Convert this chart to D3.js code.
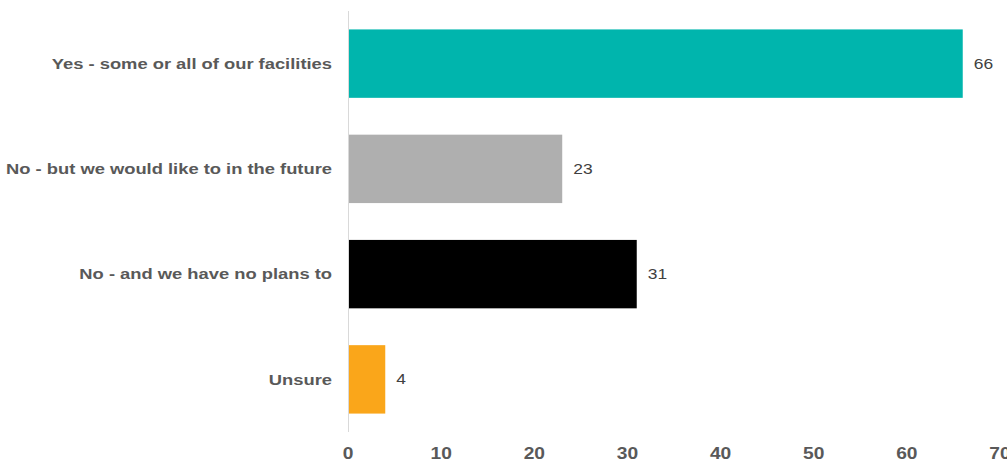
<!DOCTYPE html>
<html>
<head>
<meta charset="utf-8">
<script src="https://cdn.jsdelivr.net/npm/d3@7"></script>
<style>
  body { margin: 0; background: #fff; }
  svg { display: block; font-family: "Liberation Sans", Arial, sans-serif; }
</style>
</head>
<body>
<div id="chart"></div>
<script>
// chart data
var categories = ["Yes - some or all of our facilities", "No - but we would like to in the future", "No - and we have no plans to", "Unsure"];
var values = [66, 23, 31, 4];
var colors = ["#00B5AD", "#AFAFAF", "#000000", "#FAA61A"];
var ticks = [0, 10, 20, 30, 40, 50, 60, 70];

var width = 1007, height = 462;
var stretch = 1.2; // text in the original looks horizontally stretched

var svg = d3.select("#chart").append("svg")
    .attr("width", width)
    .attr("height", height);

var x = d3.scaleLinear().domain([0, 70]).range([348, 1000]);
var y = d3.scaleBand().domain(categories).range([11, 432]).paddingInner(0.35).paddingOuter(0.175);

function place(px, py) {
  return "translate(" + px + "," + py + ") scale(" + stretch + ",1)";
}

// vertical axis line
svg.append("line")
    .attr("x1", x(0) + 0.5).attr("x2", x(0) + 0.5)
    .attr("y1", 11).attr("y2", 432)
    .attr("stroke", "#D9D9D9").attr("stroke-width", 1);

// bars
svg.selectAll("rect.bar")
    .data(values)
    .enter().append("rect")
    .attr("class", "bar")
    .attr("x", x(0) + 1)
    .attr("y", function(d, i) { return y(categories[i]); })
    .attr("width", function(d) { return x(d) - x(0) - 1; })
    .attr("height", y.bandwidth())
    .attr("fill", function(d, i) { return colors[i]; });

// value labels
svg.selectAll("text.val")
    .data(values)
    .enter().append("text")
    .attr("class", "val")
    .attr("transform", function(d, i) { return place(x(d) + 11, y(categories[i]) + y.bandwidth() / 2); })
    .attr("dy", "0.35em")
    .style("font-size", "14.5px")
    .style("fill", "#404040")
    .text(function(d) { return d; });

// category labels
svg.selectAll("text.cat")
    .data(categories)
    .enter().append("text")
    .attr("class", "cat")
    .attr("transform", function(d) { return place(332, y(d) + y.bandwidth() / 2); })
    .attr("dy", "0.35em")
    .attr("text-anchor", "end")
    .style("font-size", "15.3px")
    .style("font-weight", "bold")
    .style("fill", "#595959")
    .text(function(d) { return d; });

// x tick labels
svg.selectAll("text.tick")
    .data(ticks)
    .enter().append("text")
    .attr("class", "tick")
    .attr("transform", function(d) { return place(x(d), 459); })
    .attr("text-anchor", "middle")
    .style("font-size", "16px")
    .style("font-weight", "bold")
    .style("fill", "#595959")
    .text(function(d) { return d; });
</script>
</body>
</html>
